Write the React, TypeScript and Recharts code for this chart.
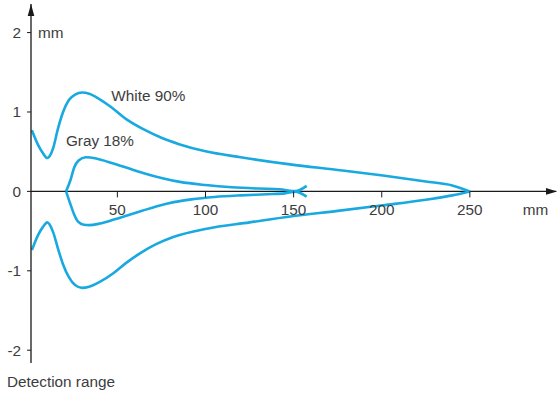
import { LineChart, Line, XAxis, YAxis, ReferenceLine, ReferenceDot } from 'recharts';

const FONT = '"Liberation Sans", Arial, Helvetica, sans-serif';
const INK = '#1a1a1a';
const TEXT_COLOR = '#3d3d3d';
const CURVE = '#19a9e1';

// detection range envelopes, [distance mm, offset mm]
const whiteUpper: [number, number][] = [
  [1.5, 0.77], [5, 0.585], [7.8, 0.48], [10.25, 0.42], [13.5, 0.54], [16.3, 0.79],
  [19.2, 1.0], [22.5, 1.15], [26, 1.22], [30, 1.245], [34, 1.23], [40, 1.16],
  [46, 1.07], [55, 0.91], [65, 0.78], [75, 0.675], [85, 0.595], [100, 0.505],
  [120, 0.43], [148, 0.34], [175, 0.27], [200.7, 0.2], [225, 0.125], [240, 0.075],
  [250, 0],
];
const whiteLower: [number, number][] = [
  [1.5, -0.74], [5, -0.55], [7.8, -0.447], [10.25, -0.39], [13.5, -0.51], [16.3, -0.72],
  [19.2, -0.92], [22.5, -1.08], [26, -1.18], [30, -1.215], [34, -1.2], [40, -1.14],
  [47.7, -1.03], [55, -0.9], [62.8, -0.78], [72, -0.665], [81.7, -0.575], [100.7, -0.47],
  [125, -0.39], [148, -0.315], [175, -0.245], [200.7, -0.175], [225, -0.105], [240, -0.05],
  [250, 0],
];
const grayUpper: [number, number][] = [
  [20.9, 0], [23.5, 0.15], [25.5, 0.3], [28, 0.39], [32, 0.43], [38, 0.415], [45, 0.37],
  [55, 0.3], [65, 0.23], [75, 0.17], [85.5, 0.12], [100, 0.08], [115, 0.052],
  [130, 0.036], [142, 0.027], [151, 0.003], [157.4, 0.07],
];
const grayLower: [number, number][] = [
  [20.9, 0], [23.5, -0.17], [25.3, -0.28], [27.7, -0.38], [31, -0.42], [34, -0.425],
  [40, -0.405], [48, -0.355], [56, -0.3], [64, -0.245], [72, -0.19], [82, -0.135],
  [92, -0.1], [105, -0.07], [120, -0.05], [135, -0.036], [145, -0.025], [151, -0.003],
  [157.4, -0.065],
];

const xTicks = [50, 100, 150, 200, 250];
const yTicks = [-2, -1, 0, 1, 2];
const curveLabels = [
  { text: 'White 90%', x: 46.6, y: 1.14 },
  { text: 'Gray 18%', x: 20.8, y: 0.567 },
];

const X_MIN = 1;
const X_MAX = 300;
const Y_MIN = -2.161;
const Y_MAX = 2.36;

const toPoints = (pairs: [number, number][]) => pairs.map(([x, y]) => ({ x, y }));
const curves = [whiteUpper, whiteLower, grayUpper, grayLower].map(toPoints);

const textStyle = { fontFamily: FONT, fontSize: 15.3, fill: TEXT_COLOR };

export default function App() {
  return (
    <div style={{ position: 'absolute', left: 0, top: 0, width: 558, height: 396, background: '#fff' }}>
      <LineChart width={558} height={396} margin={{ top: 4, right: 0, bottom: 33, left: 0 }}>
        <XAxis type="number" dataKey="x" domain={[X_MIN, X_MAX]} hide allowDataOverflow />
        <YAxis
          type="number"
          domain={[Y_MIN, Y_MAX]}
          ticks={yTicks}
          interval={0}
          allowDataOverflow
          width={31}
          tickSize={4}
          tickMargin={6}
          axisLine={{ stroke: INK, strokeWidth: 1.3 }}
          tickLine={{ stroke: INK, strokeWidth: 1 }}
          tick={textStyle}
        />
        <ReferenceLine
          segment={[{ x: X_MIN, y: 0 }, { x: X_MAX - 1, y: 0 }]}
          stroke={INK}
          strokeWidth={1.3}
        />
        {xTicks.map((t) => (
          <ReferenceDot
            key={`xt-${t}`}
            x={t}
            y={0}
            ifOverflow="visible"
            shape={(p: any) => (
              <g>
                <line x1={p.cx} y1={p.cy} x2={p.cx} y2={p.cy + 6} stroke={INK} strokeWidth={1} />
                <text x={p.cx} y={p.cy + 24} textAnchor="middle" {...textStyle}>{t}</text>
              </g>
            )}
          />
        ))}
        {/* axis arrows */}
        <ReferenceDot
          x={X_MIN}
          y={Y_MAX}
          ifOverflow="visible"
          shape={(p: any) => (
            <path d={`M${p.cx},${p.cy} L${p.cx - 3.3},${p.cy + 12} L${p.cx + 3.3},${p.cy + 12} Z`} fill={INK} />
          )}
        />
        <ReferenceDot
          x={X_MAX}
          y={0}
          ifOverflow="visible"
          shape={(p: any) => (
            <path d={`M${p.cx - 1},${p.cy} L${p.cx - 12},${p.cy - 3.3} L${p.cx - 12},${p.cy + 3.3} Z`} fill={INK} />
          )}
        />
        {/* units */}
        <ReferenceDot
          x={X_MIN}
          y={2}
          ifOverflow="visible"
          shape={(p: any) => (
            <text x={p.cx + 7} y={p.cy + 5.5} textAnchor="start" {...textStyle}>mm</text>
          )}
        />
        <ReferenceDot
          x={280}
          y={0}
          ifOverflow="visible"
          shape={(p: any) => (
            <text x={p.cx} y={p.cy + 24} textAnchor="start" {...textStyle}>mm</text>
          )}
        />
        {curves.map((pts, i) => (
          <Line
            key={`c-${i}`}
            data={pts}
            dataKey="y"
            type="monotone"
            stroke={CURVE}
            strokeWidth={2.6}
            dot={false}
            activeDot={false}
            isAnimationActive={false}
          />
        ))}
        {curveLabels.map((l) => (
          <ReferenceDot
            key={l.text}
            x={l.x}
            y={l.y}
            ifOverflow="visible"
            shape={(p: any) => (
              <text x={p.cx} y={p.cy} textAnchor="start" {...textStyle}>{l.text}</text>
            )}
          />
        ))}
      </LineChart>
      <div
        style={{
          position: 'absolute',
          left: 7,
          top: 374,
          fontFamily: FONT,
          fontSize: 15.3,
          lineHeight: '15px',
          color: TEXT_COLOR,
          whiteSpace: 'nowrap',
        }}
      >
        Detection range
      </div>
    </div>
  );
}
